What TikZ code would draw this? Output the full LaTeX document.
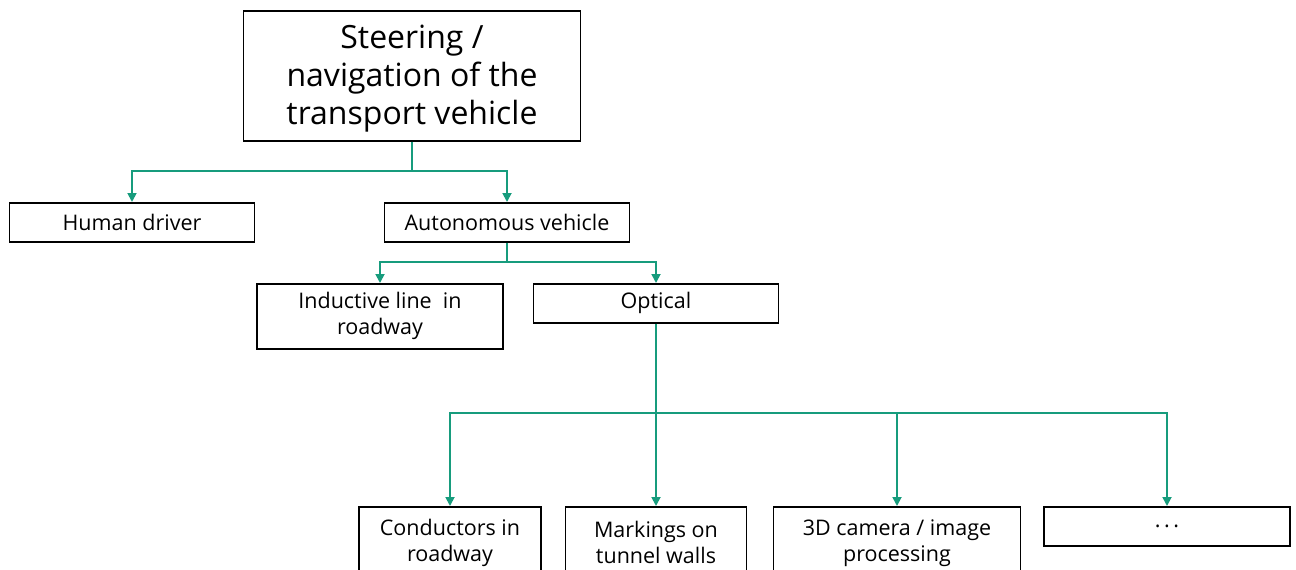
\documentclass[tikz,border=0pt]{standalone}
\usepackage{fontspec}
\setmainfont{Open Sans}
\usetikzlibrary{arrows.meta}
\definecolor{fgreen}{RGB}{23,156,125}
\tikzset{
  box/.style={draw=black, line width=1.5pt, rectangle, align=center, inner sep=0pt,
    font=\fontsize{21.5}{26}\selectfont, anchor=north},
  conn/.style={draw=fgreen, line width=1.8pt},
  arr/.style={conn, -{Triangle[width=9pt,length=9pt]}}
}
\begin{document}
\begin{tikzpicture}[x=1pt,y=-1pt]
\useasboundingbox (0,0) rectangle (1296,570);
\clip (0,0) rectangle (1296,570);
\node[box, minimum width=337pt, minimum height=130pt, font=\fontsize{32}{38}\selectfont] (top) at (412,10) {\rule{0pt}{30pt}Steering /\\navigation of the\\transport vehicle};
\node[box, minimum width=245pt, minimum height=39pt] (human) at (132,202) {Human driver};
\node[box, minimum width=245pt, minimum height=39pt] (auto) at (507,202) {Autonomous vehicle};
\node[box, minimum width=246pt, minimum height=65pt] (induct) at (380,283) {Inductive line\ \ in\\roadway};
\node[box, minimum width=245pt, minimum height=39pt] (optical) at (656,283) {Optical};
\node[box, minimum width=182pt, minimum height=72pt] (cond) at (450,506) {Conductors in\\roadway};
\node[box, minimum width=181pt, minimum height=72pt] (mark) at (656,506) {Markings on\\tunnel walls};
\node[box, minimum width=247pt, minimum height=72pt] (cam) at (897,506) {3D camera / image\\processing};
\node[box, minimum width=246pt, minimum height=39pt] (dots) at (1167,506) {.\,.\,.};
\coordinate (j1) at (412,171);
\coordinate (j2) at (507,262);
\coordinate (j3) at (656,413);
\draw[conn] (top.south) -- (j1);
\draw[arr] (j1) -| (human.north);
\draw[arr] (j1) -| (auto.north);
\draw[conn] (auto.south) -- (j2);
\draw[arr] (j2) -| (induct.north);
\draw[arr] (j2) -| (optical.north);
\draw[conn] (optical.south) -- (j3);
\draw[arr] (j3) -| (cond.north);
\draw[arr] (j3) -| (mark.north);
\draw[arr] (j3) -| (cam.north);
\draw[arr] (j3) -| (dots.north);
\end{tikzpicture}
\end{document}
